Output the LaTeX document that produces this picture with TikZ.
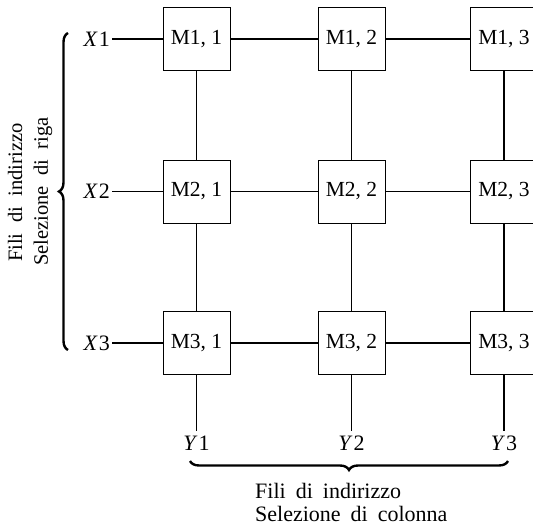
\documentclass[tikz,border=0pt]{standalone}
\usepackage{fontspec}
\setmainfont{Liberation Serif}
\usetikzlibrary{decorations.pathreplacing}
\newcommand{\wsp}{\hspace{10pt}}
\newcommand{\wspr}{\hspace{10.5pt}}
\begin{document}
\begin{tikzpicture}[x=1pt,y=-1pt,
  cell/.style={draw,line width=0.9pt,minimum width=67pt,minimum height=63pt,inner sep=0pt,font=\fontsize{21.5}{25}\selectfont},
  lbl/.style={inner sep=0pt,font=\fontsize{22}{26}\selectfont},
  wire/.style={line width=1.1pt},
  bigbrace/.style={decorate,decoration={brace,amplitude=9pt},line width=2.4pt},
  sidetxt/.style={inner sep=0pt,font=\fontsize{20.5}{24}\selectfont},
  txt/.style={inner sep=0pt,font=\fontsize{22}{26}\selectfont}]
\useasboundingbox (0,0) rectangle (533,526);
\clip (0,0) rectangle (533,526);
% cells
\foreach \r/\y in {1/39,2/191.5,3/343}{
  \foreach \c/\x in {1/196.5,2/351.5,3/504}{
    \node[cell] (m\r\c) at (\x,\y) {M\r, \c};
  }
}
% row labels
\node[lbl,anchor=east] (x1) at (110,39) {\textit{X}\kern1pt 1};
\node[lbl,anchor=east] (x2) at (110,191.5) {\textit{X}\kern1pt 2};
\node[lbl,anchor=east] (x3) at (110,343) {\textit{X}\kern1pt 3};
% column labels
\node[lbl,anchor=base] (y1) at (196.5,451) {\textit{Y}\kern1pt 1};
\node[lbl,anchor=base] (y2) at (351.5,451) {\textit{Y}\kern1pt 2};
\node[lbl,anchor=base] (y3) at (504,451) {\textit{Y}\kern1pt 3};
% horizontal wires
\foreach \r in {1,2,3}{
  \draw[wire] ([xshift=2pt]x\r.east) -- (m\r1.west);
  \draw[wire] (m\r1.east) -- (m\r2.west);
  \draw[wire] (m\r2.east) -- (m\r3.west);
}
% vertical wires
\foreach \c in {1,2,3}{
  \draw[wire] (m1\c.south) -- (m2\c.north);
  \draw[wire] (m2\c.south) -- (m3\c.north);
  \draw[wire] (m3\c.south) -- ([yshift=5pt]y\c.north);
}
% braces
\coordinate (lb1) at (68,350);
\coordinate (lb2) at (68,33);
\draw[bigbrace] (lb1) -- (lb2);
\coordinate (bb1) at (508,461);
\coordinate (bb2) at (190,461);
\draw[bigbrace] (bb1) -- (bb2);
% texts
\node[sidetxt,rotate=90,anchor=west] (t1) at (15,262) {Fili\wspr di\wspr indirizzo};
\node[sidetxt,rotate=90,anchor=west] (t2) at (43,266) {Selezione\wspr di\wspr riga};
\node[txt,anchor=base west] (t3) at (255,498) {Fili\wsp di\wsp indirizzo};
\node[txt,anchor=base west] (t4) at (255,521) {Selezione\wsp di\wsp colonna};
\end{tikzpicture}
\end{document}
